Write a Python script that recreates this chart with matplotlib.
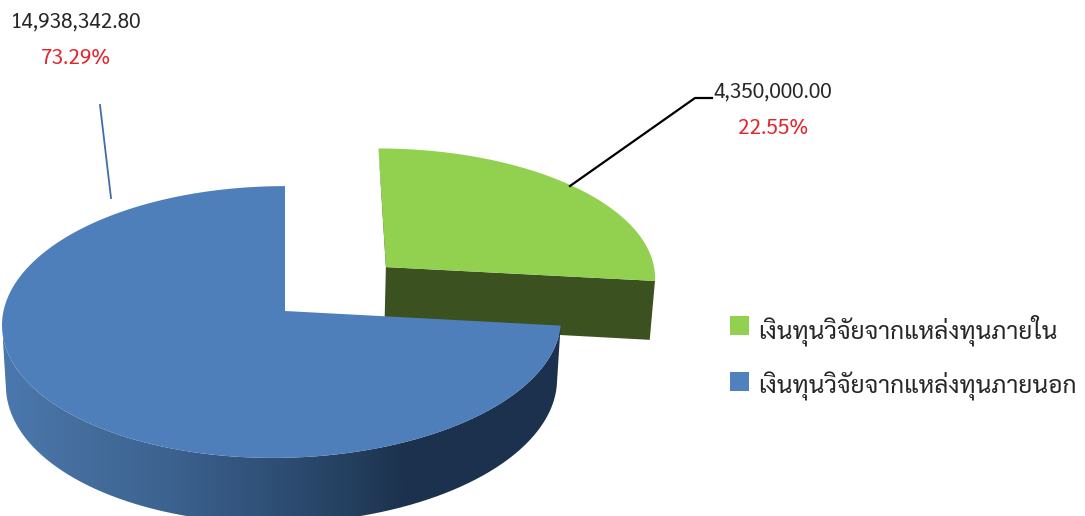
import matplotlib
matplotlib.use("Agg")
import matplotlib.pyplot as plt
from matplotlib.colors import LinearSegmentedColormap
from matplotlib.patches import PathPatch, Polygon, Rectangle
from matplotlib.path import Path
import numpy as np

# Datos de la grafica
categories = ["เงินทุนวิจัยจากแหล่งทุนภายใน", "เงินทุนวิจัยจากแหล่งทุนภายนอก"]
amounts = [4350000.00, 14938342.80]
percents = [22.55, 73.29]

GREEN = "#92d050"
GREEN_SIDE = "#3c5120"
BLUE = "#4e7fbb"
RED = "#e3262e"
TEXT = "#262626"
FONT = "Sarabun"

# Parametros de la proyeccion del disco
CX, CY = 285, 311
RX, RY = 278.5, 135
PERSP = 0.081
DRIFT = -12
DEPTH = 60
EXPLODE = 0.50

# El sector azul empieza donde termina el verde, medido desde arriba
edge = 360 * (1 - percents[1] / 100)
mid = np.radians(edge / 2)
off_x, off_y = EXPLODE * np.sin(mid), EXPLODE * np.cos(mid)


def project(theta, radius=1.0, dx=0.0, dy=0.0, drop=0.0):
    t = np.radians(theta)
    x = dx + radius * np.sin(t)
    y = dy + radius * np.cos(t)
    w = 1 + PERSP * y
    lean = DRIFT * radius * ((1 - np.cos(t)) / 2) ** 2
    sx = CX + RX * x * (1 - 0.014 * drop) / w + lean
    sy = CY - RY * y / w + DEPTH * drop / w
    return np.column_stack([sx, sy])


def wedge(start, stop, dx=0.0, dy=0.0):
    arc = np.linspace(start, stop, 300)
    apex = project(np.array([0.0]), 0.0, dx, dy)
    return np.vstack([apex, project(arc, 1.0, dx, dy)])


fig = plt.figure(figsize=(10.85, 5.16), dpi=100)
ax = fig.add_axes([0, 0, 1, 1])
ax.set_xlim(0, 1085)
ax.set_ylim(516, 0)
ax.axis("off")

# Sector verde separado: caras de corte y tapa
rim_green = project(np.array([edge]), 1.0, off_x, off_y)
apex_green = project(np.array([0.0]), 0.0, off_x, off_y)
low_rim = project(np.array([edge]), 1.0, off_x, off_y, 1.0)
low_apex = project(np.array([0.0]), 0.0, off_x, off_y, 1.0)
ax.add_patch(Polygon(np.vstack([apex_green, rim_green, low_rim, low_apex]),
                     closed=True, fc=GREEN_SIDE, ec="none", zorder=2))
top_green = project(np.array([0.0]), 1.0, off_x, off_y)
ax.add_patch(Polygon(np.vstack([top_green, apex_green + [1.5, 0], apex_green]),
                     closed=True, fc="#3f4f2c", ec="none", zorder=2))
ax.add_patch(Polygon(wedge(0, edge, off_x, off_y), closed=True,
                     fc=GREEN, ec="none", zorder=3))

# Pared curva del sector azul con degradado horizontal
arc = np.linspace(edge, 360, 800)
arc = arc[:np.argmin(project(arc)[:, 0]) + 1]
wall = np.vstack([project(arc), project(arc[::-1], drop=1.0)])
wall_cmap = LinearSegmentedColormap.from_list(
    "pared",
    [(0.0, "#4a78ae"), (0.12, "#466f9f"), (0.30, "#3c628f"),
     (0.48, "#2f4f76"), (0.62, "#24405f"), (0.72, "#1c314d"),
     (1.0, "#1c314d")])
shade = ax.imshow(np.linspace(0, 1, 512).reshape(1, -1),
                  extent=(3, 562, 516, 300), aspect="auto",
                  cmap=wall_cmap, zorder=4)
wall_patch = PathPatch(Path(np.vstack([wall, wall[0]])),
                       fc="none", ec="none", transform=ax.transData)
ax.add_patch(wall_patch)
shade.set_clip_path(wall_patch)
ax.set_xlim(0, 1085)
ax.set_ylim(516, 0)

# Tapa del sector azul
ax.add_patch(Polygon(wedge(edge, 360), closed=True,
                     fc=BLUE, ec="none", zorder=5))

# Lineas guia
ax.plot([100, 111], [105, 198], color="#3f6ea8", lw=1.3, zorder=6)
ax.plot([570, 695, 712], [186, 98, 98], color="black", lw=1.6, zorder=6)

# Etiquetas de monto y porcentaje
label_pos = [(773, 92, 128), (76, 22, 58)]
for amount, percent, (x, y1, y2) in zip(amounts, percents, label_pos):
    ax.text(x, y1, f"{amount:,.2f}", ha="center", va="center",
            family=FONT, fontsize=15, color=TEXT)
    ax.text(x, y2, f"{percent:.2f}%", ha="center", va="center",
            family=FONT, fontsize=15, color=RED)

# Leyenda
legend_y = [316, 372]
for name, color, y in zip(categories, [GREEN, "#4f81bd"], legend_y):
    ax.add_patch(Rectangle((730, y), 19, 19, fc=color, ec="none"))
    ax.text(758, y + 14, name, ha="left", va="center",
            family=FONT, fontsize=17.65, color=TEXT)

fig.savefig("out.png", dpi=100)
